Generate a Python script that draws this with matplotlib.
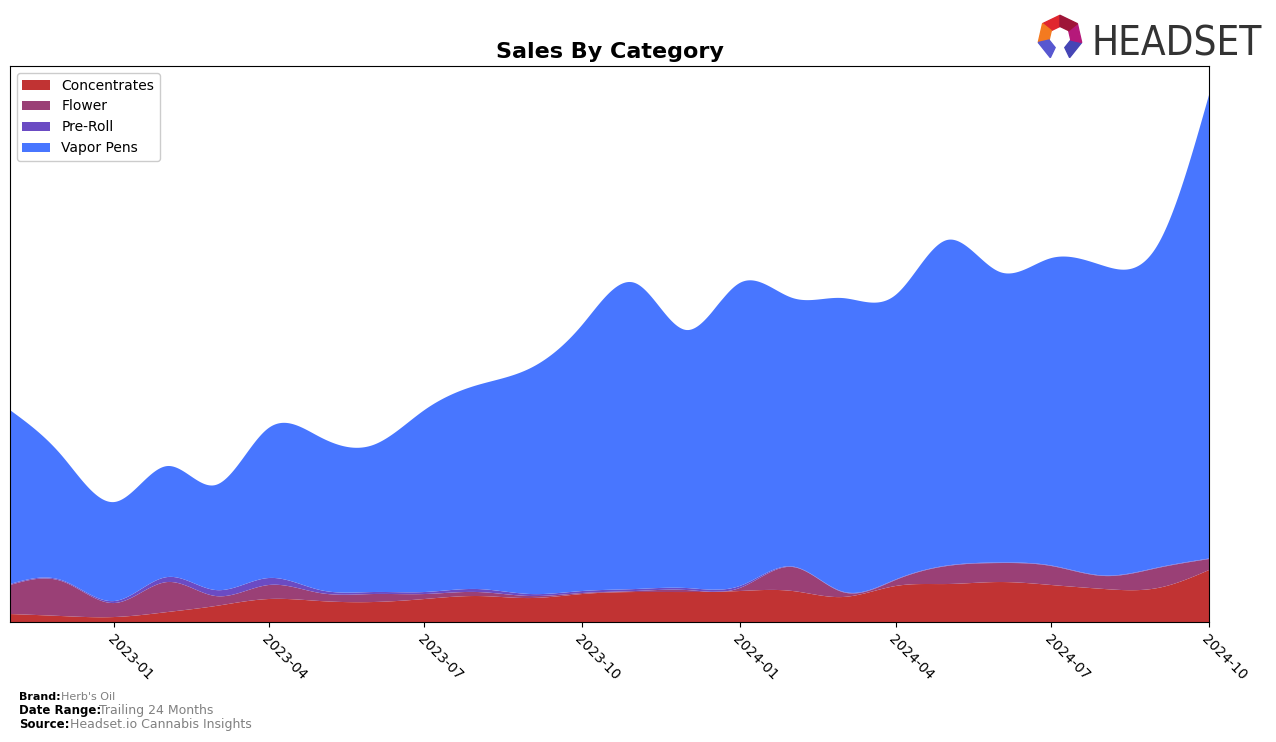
import numpy as np
import pandas as pd
import matplotlib
matplotlib.use('Agg')
import matplotlib.pyplot as plt
import matplotlib.dates as mdates
from matplotlib.patches import Patch, Polygon

# monthly sales (arbitrary units)
months = pd.date_range('2022-11-01', '2024-10-01', freq='MS')
concentrates = [8, 6, 5, 10, 16, 23, 21, 20, 23, 26, 24, 28, 30, 30, 31, 31, 25, 36, 38, 40, 37, 33, 34, 52]
flower = [29, 35, 14, 30, 10, 14, 8, 8, 5, 4, 2, 1, 1, 2, 3, 24, 5, 6, 18, 19, 19, 13, 20, 11]
pre_roll = [1, 1, 2, 5, 6, 7, 3, 2, 2, 3, 2, 2, 2, 2, 2, 0.5, 0.5, 0.5, 0.5, 0.5, 0.5, 0.5, 0.5, 0.5]
total = [212, 167, 120, 156, 137, 194, 185, 177, 212, 237, 254, 297, 339, 292, 339, 324, 324, 327, 382, 350, 364, 356, 377, 527]
vapor_pens = [t - c - f - p for t, c, f, p in zip(total, concentrates, flower, pre_roll)]

labels = ['Concentrates', 'Flower', 'Pre-Roll', 'Vapor Pens']
colors = ['#C13333', '#9A4076', '#6B4BC3', '#4876FF']


def natural_spline(x, y, xs):
    # plain natural cubic spline, only for drawing smooth curves
    x = np.asarray(x, float)
    y = np.asarray(y, float)
    n = len(x)
    h = np.diff(x)
    A = np.zeros((n, n))
    b = np.zeros(n)
    A[0, 0] = A[-1, -1] = 1
    for i in range(1, n - 1):
        A[i, i - 1] = h[i - 1]
        A[i, i] = 2 * (h[i - 1] + h[i])
        A[i, i + 1] = h[i]
        b[i] = 3 * ((y[i + 1] - y[i]) / h[i] - (y[i] - y[i - 1]) / h[i - 1])
    c = np.linalg.solve(A, b)
    idx = np.clip(np.searchsorted(x, xs) - 1, 0, n - 2)
    dx = xs - x[idx]
    bb = (y[idx + 1] - y[idx]) / h[idx] - h[idx] * (2 * c[idx] + c[idx + 1]) / 3
    dd = (c[idx + 1] - c[idx]) / (3 * h[idx])
    return y[idx] + bb * dx + c[idx] * dx ** 2 + dd * dx ** 3


xnum = mdates.date2num(months)
xs = np.linspace(xnum[0], xnum[-1], 800)
series = [concentrates, flower, pre_roll, vapor_pens]
smooth = [np.clip(natural_spline(xnum, s, xs), 0, None) for s in series]

fig = plt.figure(figsize=(12.76, 7.42), dpi=100)
ax = fig.add_axes([0.0078, 0.1617, 0.9397, 0.7493])
ax.stackplot(xs, *smooth, colors=colors, labels=labels)

ax.set_xlim(xnum[0], xnum[-1])
ax.set_ylim(0, 556)
ax.set_yticks([])
ax.xaxis.set_major_locator(mdates.MonthLocator(bymonth=[1, 4, 7, 10]))
ax.xaxis.set_major_formatter(mdates.DateFormatter('%Y-%m'))
plt.setp(ax.get_xticklabels(), rotation=-45, ha='left', rotation_mode='anchor', fontsize=10)
ax.set_title('Sales By Category', fontsize=16, fontweight='bold', pad=6)

handles = [Patch(facecolor=c, label=l) for c, l in zip(colors, labels)]
ax.legend(handles=handles, loc='upper left', fontsize=10, framealpha=1)

# footer
fig.text(0.015, 0.057, 'Brand:', fontsize=8, fontweight='bold')
fig.text(0.048, 0.057, "Herb's Oil", fontsize=8, color='gray')
fig.text(0.015, 0.038, 'Date Range:', fontsize=8.5, fontweight='bold')
fig.text(0.0776, 0.038, 'Trailing 24 Months', fontsize=9, color='gray')
fig.text(0.015, 0.019, 'Source:', fontsize=8.5, fontweight='bold')
fig.text(0.0549, 0.019, 'Headset.io Cannabis Insights', fontsize=9, color='gray')

# logo: broken heptagon ring
lax = fig.add_axes([0.8115, 0.9164, 0.0384, 0.066])
lax.set_xlim(-1.1, 1.1)
lax.set_ylim(-1.1, 1.1)
lax.set_aspect('equal')
lax.axis('off')
angs = np.deg2rad(90 + np.arange(8) * 360 / 7)
seg_colors = ['#E0262E', '#F47A20', '#5757D0', None, '#4545B5', '#B5197A', '#9E1538']
for i, col in enumerate(seg_colors):
    if col is None:
        continue
    a1, a2 = angs[i], angs[i + 1]
    pts = [[np.cos(a1), np.sin(a1)], [np.cos(a2), np.sin(a2)],
           [0.5 * np.cos(a2), 0.5 * np.sin(a2)], [0.5 * np.cos(a1), 0.5 * np.sin(a1)]]
    lax.add_patch(Polygon(pts, color=col))
fig.text(0.8555, 0.925, 'HEADSET', fontsize=29, color='#333333', fontstretch='condensed')

fig.savefig('out.png', dpi=100)
